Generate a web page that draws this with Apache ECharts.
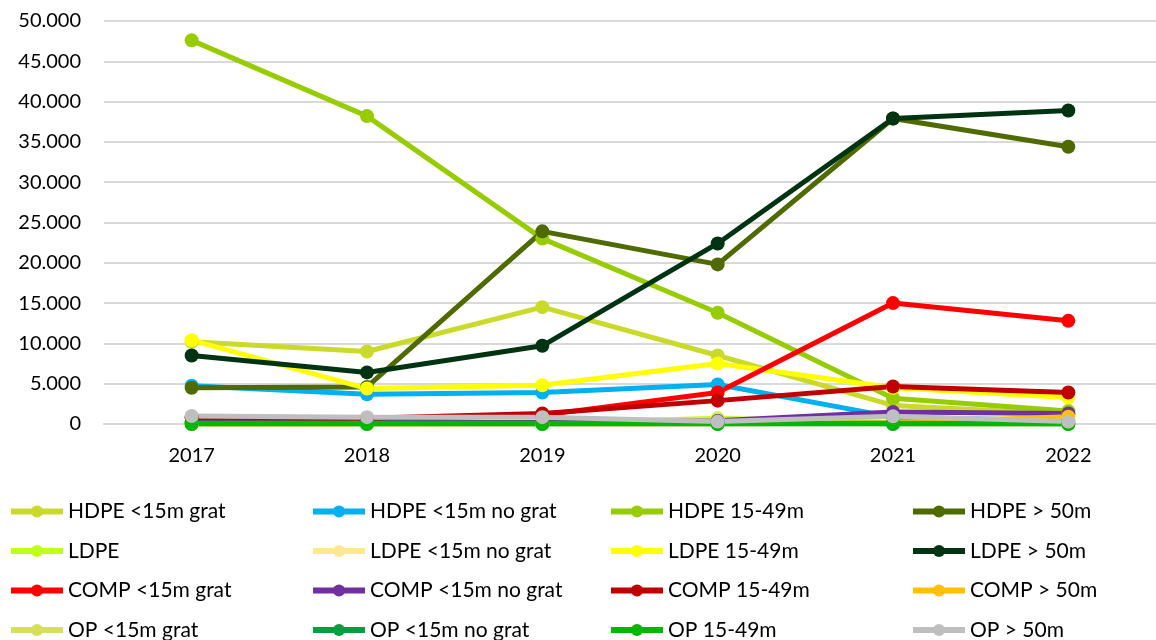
<!DOCTYPE html>
<html><head><meta charset="utf-8">
<script src="https://cdn.jsdelivr.net/npm/echarts@6/dist/echarts.min.js"></script>
<style>html,body{margin:0;padding:0;background:#fff}#c{width:1156px;height:640px}</style>
</head><body><div id="c"></div>
<script>
const years = ['2017','2018','2019','2020','2021','2022'];
const names = ['HDPE <15m grat','HDPE <15m no grat','HDPE 15-49m','HDPE > 50m',
  'LDPE','LDPE <15m no grat','LDPE 15-49m','LDPE > 50m',
  'COMP <15m grat','COMP <15m no grat','COMP 15-49m','COMP > 50m',
  'OP <15m grat','OP <15m no grat','OP 15-49m','OP > 50m'];
const colors = ['#C9DA2A','#00B0F0','#96CC00','#4F6A00',
  '#C0FF1A','#FFE98F','#FFFF00','#003311',
  '#FF0000','#7030A0','#C00000','#FFC000',
  '#D5DF5A','#00A040','#00B800','#BFBFBF'];
const hdpeLt15Grat   = [10200, 9000, 14500, 8500, 2300, 1200];
const hdpeLt15NoGrat = [4750, 3700, 3900, 4900, 850, 400];
const hdpe1549       = [47600, 38200, 23000, 13800, 3200, 1600];
const hdpeGt50       = [4500, 4600, 23900, 19800, 37900, 34400];
const ldpe           = [0, 0, 100, 700, 200, 100];
const ldpeLt15NoGrat = [0, 0, 0, 500, 0, 0];
const ldpe1549       = [10400, 4400, 4800, 7500, 4500, 3300];
const ldpeGt50       = [8500, 6400, 9700, 22400, 37900, 38900];
const compLt15Grat   = [800, 600, 1100, 3900, 15000, 12800];
const compLt15NoGrat = [300, 200, 200, 400, 1500, 1300];
const comp1549       = [800, 700, 1300, 2900, 4650, 3900];
const compGt50       = [0, 0, 0, 0, 200, 900];
const opLt15Grat     = [0, 0, 0, 0, 0, 0];
const opLt15NoGrat   = [0, 0, 0, 0, 0, 0];
const op1549         = [100, 80, 80, 50, 100, 30];
const opGt50         = [1000, 850, 850, 300, 950, 300];
const values = [hdpeLt15Grat,hdpeLt15NoGrat,hdpe1549,hdpeGt50,ldpe,ldpeLt15NoGrat,ldpe1549,ldpeGt50,
  compLt15Grat,compLt15NoGrat,comp1549,compGt50,opLt15Grat,opLt15NoGrat,op1549,opGt50];

const FONT = 'Lato';
const series = names.map((n,i)=>({
  name:n, type:'line', data:values[i], symbol:'circle', symbolSize:14,
  itemStyle:{color:colors[i]}, lineStyle:{width:5,color:colors[i]},
  emphasis:{disabled:true}, animation:false
}));
const colLeft = [8, 310, 608, 910];
const legends = [0,1,2,3].map(c=>({
  orient:'vertical', left:colLeft[c], top:501, height:220,
  data:[names[c],names[c+4],names[c+8],names[c+12]],
  itemWidth:52, itemHeight:15, itemGap:18.5, padding:0,
  lineStyle:{width:6},
  textStyle:{fontFamily:FONT,fontSize:21,color:'#000',padding:[0,0,0,0]},
  selectedMode:false
}));
const chart = echarts.init(document.getElementById('c'));
chart.setOption({
  backgroundColor:'#fff',
  animation:false,
  legend:legends,
  grid:{left:104, top:21, width:1059, height:403, containLabel:false},
  xAxis:{type:'category', data:years, boundaryGap:true,
    axisLine:{show:true,lineStyle:{color:'#D9D9D9',width:2}}, axisTick:{show:false},
    axisLabel:{fontFamily:FONT,fontSize:20,color:'#000',margin:22}},
  yAxis:{type:'value', min:0, max:50000, interval:5000,
    axisLine:{show:false}, axisTick:{show:false},
    splitLine:{lineStyle:{color:'#D9D9D9',width:2}},
    axisLabel:{fontFamily:FONT,fontSize:20,color:'#000',margin:23,
      formatter:v=> v===0?'0':(v/1000).toFixed(0)+'.000'}},
  series:series
});
</script></body></html>
